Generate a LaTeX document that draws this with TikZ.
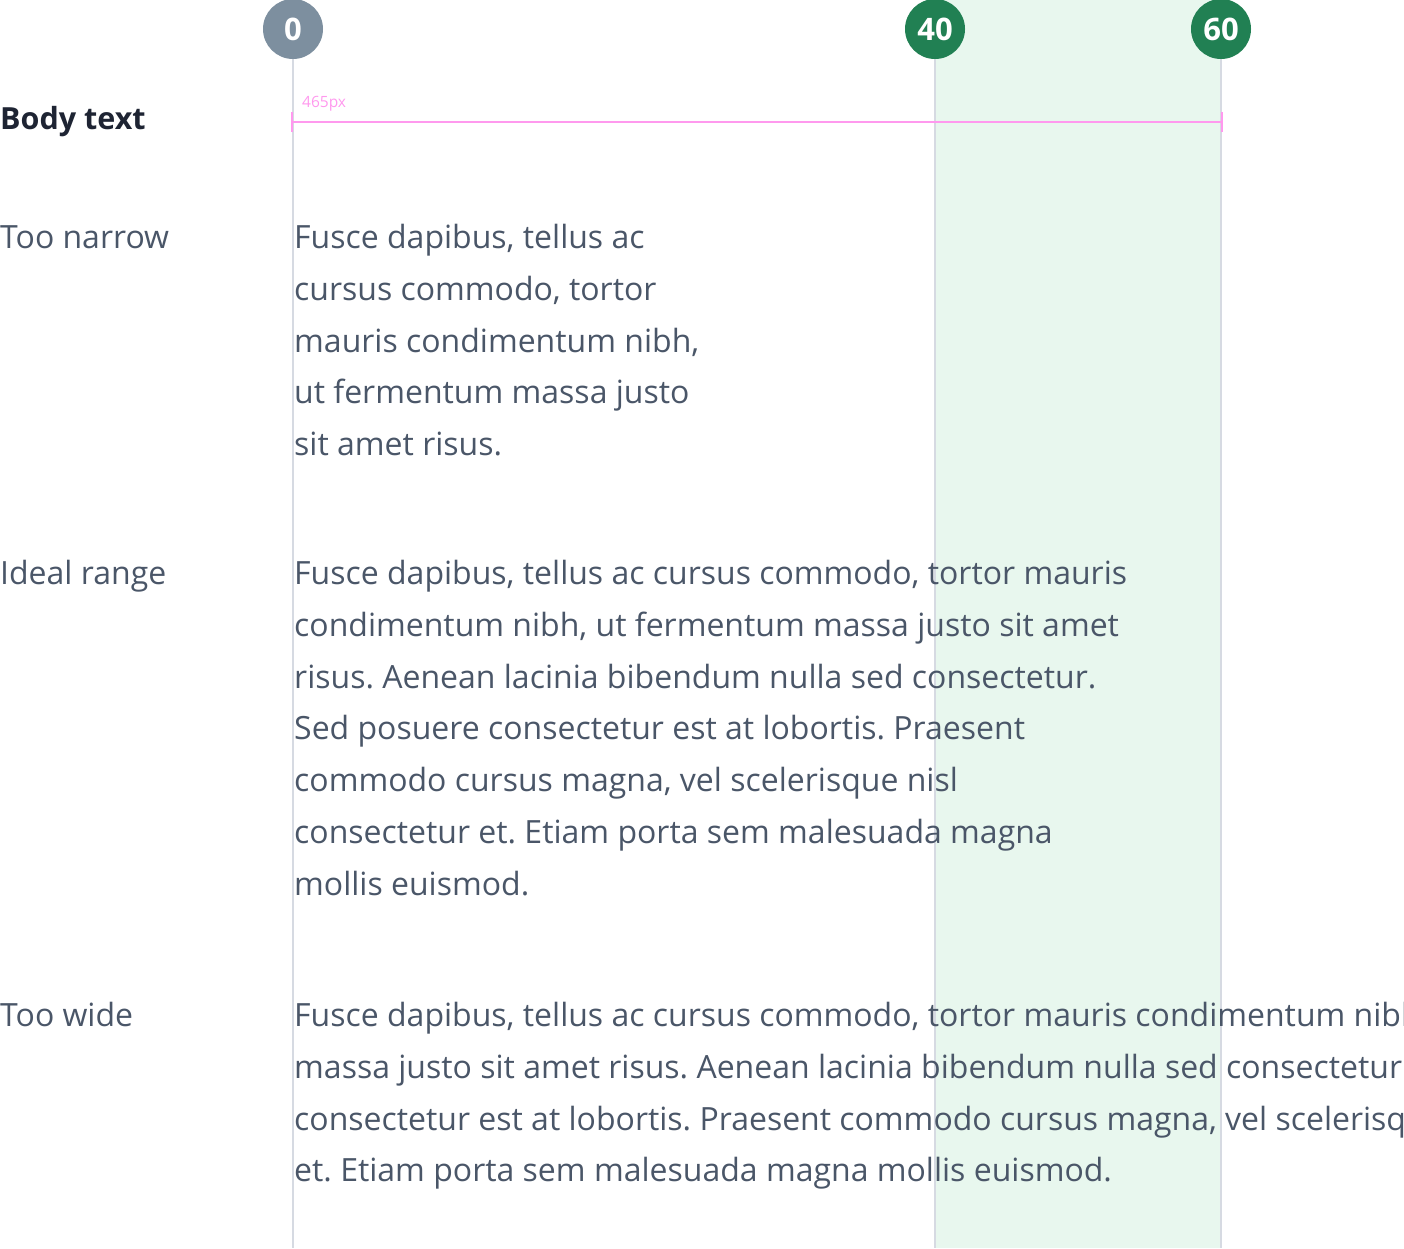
\documentclass[tikz,border=0pt]{standalone}
\usepackage{fontspec}
\setmainfont{Open Sans}
\frenchspacing
\definecolor{bodyink}{HTML}{4A5668}
\definecolor{headink}{HTML}{1E2433}
\definecolor{guide}{HTML}{D6DAE2}
\definecolor{band}{HTML}{E8F7EE}
\definecolor{okgreen}{HTML}{218053}
\definecolor{slate}{HTML}{7D8F9F}
\definecolor{ruler}{HTML}{FF99EE}
\tikzset{
  marker/.style={circle, minimum size=60pt, inner sep=0pt, text=white,
    font=\fontsize{31}{32}\selectfont\bfseries},
  textline/.style={anchor=base west, inner sep=0pt, text=bodyink,
    font=\fontsize{32}{52}\selectfont},
  guideline/.style={draw=guide, line width=1.6pt},
  rulerline/.style={draw=ruler, line width=1.6pt},
}
\begin{document}
\begin{tikzpicture}[x=1pt,y=-1pt]
\useasboundingbox (0,0) rectangle (1404,1248);
\clip (0,0) rectangle (1404,1248);
% recommended measure band (40 to 60 characters)
\fill[band] (935,0) rectangle (1221,1248);
% column markers and their guide lines
\coordinate (g0) at (293,1248);
\coordinate (g40) at (935,1248);
\coordinate (g60) at (1221,1248);
\node[marker, fill=slate] (m0) at (293,29) {0};
\node[marker, fill=okgreen] (m40) at (935,29) {40};
\node[marker, fill=okgreen] (m60) at (1221,29) {60};
\draw[guideline] (m0.south) -- (g0);
\draw[guideline] (m40.south) -- (g40);
\draw[guideline] (m60.south) -- (g60);
% width ruler
\coordinate (r0) at (292,122);
\coordinate (r1) at (1222,122);
\draw[rulerline] (r0) -- (r1);
\draw[rulerline] ([yshift=-10pt]r0) -- ([yshift=10pt]r0);
\draw[rulerline] ([yshift=-10pt]r1) -- ([yshift=10pt]r1);
\node[anchor=base west, inner sep=0pt, text=ruler, font=\fontsize{15.5}{17}\selectfont] (rl) at (302,107) {465px};
% row labels
\node[anchor=base west, inner sep=0pt, text=headink, font=\fontsize{30.5}{32}\selectfont\bfseries] (hd) at (0,129) {Body text};
\node[textline] (l1) at (0,248.5) {Too narrow};
\node[textline] (l2) at (0,584.5) {Ideal range};
\node[textline] (l3) at (0,1026.5) {Too wide};
% sample paragraphs, one node per line
\foreach \t [count=\i] in {{Fusce dapibus, tellus ac},{cursus commodo, tortor},{mauris condimentum nibh,},{ut fermentum massa justo},{sit amet risus.}}
  \node[textline] (na\i) at (294,{248.5+51.8*(\i-1)}) {\t};
\foreach \t [count=\i] in {{Fusce dapibus, tellus ac cursus commodo, tortor mauris},{condimentum nibh, ut fermentum massa justo sit amet},{risus. Aenean lacinia bibendum nulla sed consectetur.},{Sed posuere consectetur est at lobortis. Praesent},{commodo cursus magna, vel scelerisque nisl},{consectetur et. Etiam porta sem malesuada magna},{mollis euismod.}}
  \node[textline] (id\i) at (294,{584.5+51.8*(\i-1)}) {\t};
\foreach \t [count=\i] in {{Fusce dapibus, tellus ac cursus commodo, tortor mauris condimentum nibh},{massa justo sit amet risus. Aenean lacinia bibendum nulla sed consectetur},{consectetur est at lobortis. Praesent commodo cursus magna, vel scelerisque},{et. Etiam porta sem malesuada magna mollis euismod.}}
  \node[textline] (wd\i) at (294,{1026.5+51.8*(\i-1)}) {\t};
\end{tikzpicture}
\end{document}
